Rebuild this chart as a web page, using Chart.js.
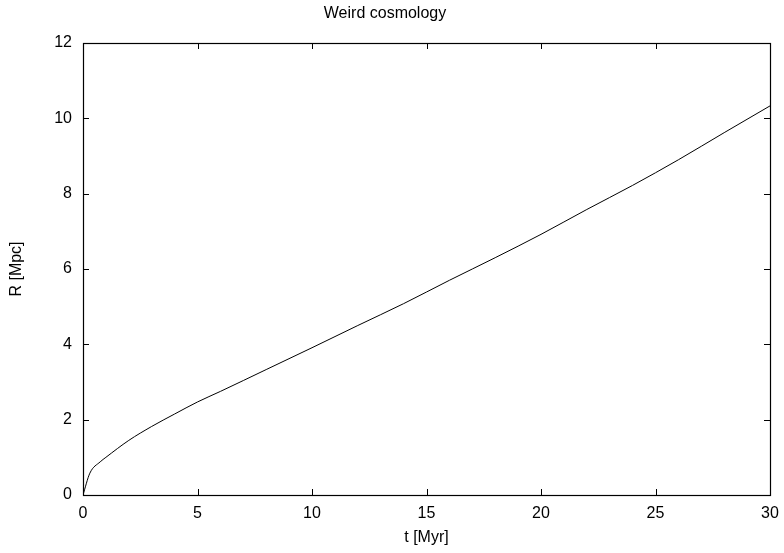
<!DOCTYPE html>
<html>
<head>
<meta charset="utf-8">
<script src="https://cdn.jsdelivr.net/npm/chart.js@4/dist/chart.umd.min.js"></script>
<style>
  html, body { margin: 0; padding: 0; background: #fff; }
  #wrap { width: 784px; height: 553px; }
</style>
</head>
<body>
<div id="wrap"><canvas id="cosmo"></canvas></div>
<script>
'use strict';

// t [Myr] and R [Mpc]
const tValues = [0, 0.3, 0.75, 1, 2, 3, 4, 5, 6, 8, 10, 12, 14, 16, 18, 20, 22, 24, 26, 28, 30];
const rValues = [0, 0.58, 0.88, 1.0, 1.45, 1.82, 2.15, 2.47, 2.75, 3.33, 3.91, 4.50, 5.08, 5.70, 6.30, 6.92, 7.58, 8.22, 8.90, 9.62, 10.33];

const xTicks = [0, 5, 10, 15, 20, 25, 30];
const yTicks = [0, 2, 4, 6, 8, 10, 12];

const fontFam = '"Liberation Sans", Arial, Helvetica, sans-serif';

// gnuplot style frame with inward ticks on all four sides
const framePlugin = {
    id: 'frame',
    afterDatasetsDraw(chart) {
	const ctx = chart.ctx;
	const a = chart.chartArea;
	const xs = chart.scales.x;
	const ys = chart.scales.y;
	const len = 6;
	ctx.save();
	ctx.strokeStyle = '#000';
	ctx.lineWidth = 1;
	ctx.beginPath();
	xTicks.forEach(v => {
	    const px = Math.round(xs.getPixelForValue(v)) + 0.5;
	    ctx.moveTo(px, a.bottom);
	    ctx.lineTo(px, a.bottom - len);
	    ctx.moveTo(px, a.top);
	    ctx.lineTo(px, a.top + len);
	});
	yTicks.forEach(v => {
	    const py = Math.round(ys.getPixelForValue(v)) + 0.5;
	    ctx.moveTo(a.left, py);
	    ctx.lineTo(a.left + len, py);
	    ctx.moveTo(a.right, py);
	    ctx.lineTo(a.right - len, py);
	});
	ctx.stroke();
	ctx.lineWidth = 1.2;
	ctx.strokeRect(Math.round(a.left) + 0.5, Math.round(a.top) + 0.5,
		       Math.round(a.right - a.left), Math.round(a.bottom - a.top));
	ctx.restore();
    },
};

const points = tValues.map((t, i) => ({ x: t, y: rValues[i] }));

const chartConfig = {
    type: 'line',
    data: {
	datasets: [{
	    label: 'R(t)',
	    data: points,
	    borderColor: '#000',
	    borderWidth: 1,
	    pointRadius: 0,
	    fill: false,
	    cubicInterpolationMode: 'monotone',
	}],
    },
    options: {
	responsive: true,
	maintainAspectRatio: false,
	animation: false,
	layout: { padding: { top: 0, right: 14, bottom: 0, left: 0 } },
	plugins: {
	    legend: { display: false },
	    tooltip: { enabled: false },
	    title: {
		display: true,
		text: 'Weird cosmology',
		color: '#000',
		font: { family: fontFam, size: 16, weight: 'normal' },
		padding: { top: 4, bottom: 19.8 },
	    },
	},
	scales: {
	    x: {
		type: 'linear',
		min: 0,
		max: 30,
		afterFit: s => {
		    s.height = 58;
		    s.paddingLeft = 0;
		    s.paddingRight = 0;
		},
		afterBuildTicks: s => { s.ticks = xTicks.map(v => ({ value: v })); },
		grid: { display: false, drawTicks: false },
		border: { display: false },
		ticks: {
		    color: '#000',
		    padding: 9,
		    maxRotation: 0,
		    font: { family: fontFam, size: 16 },
		},
		title: {
		    display: true,
		    text: 't [Myr]',
		    color: '#000',
		    font: { family: fontFam, size: 16 },
		    padding: { top: 0, bottom: 6 },
		},
	    },
	    y: {
		type: 'linear',
		min: 0,
		max: 12,
		afterFit: s => {
		    s.width = 83;
		    s.paddingTop = 0;
		    s.paddingBottom = 0;
		},
		afterBuildTicks: s => { s.ticks = yTicks.map(v => ({ value: v })); },
		grid: { display: false, drawTicks: false },
		border: { display: false },
		ticks: {
		    color: '#000',
		    padding: 11,
		    font: { family: fontFam, size: 16 },
		},
		title: {
		    display: true,
		    text: 'R [Mpc]',
		    color: '#000',
		    font: { family: fontFam, size: 16 },
		    padding: { top: 7, bottom: 0 },
		},
	    },
	},
    },
    plugins: [framePlugin],
};

const chart = new Chart(document.querySelector('#cosmo'), chartConfig);
</script>
</body>
</html>
